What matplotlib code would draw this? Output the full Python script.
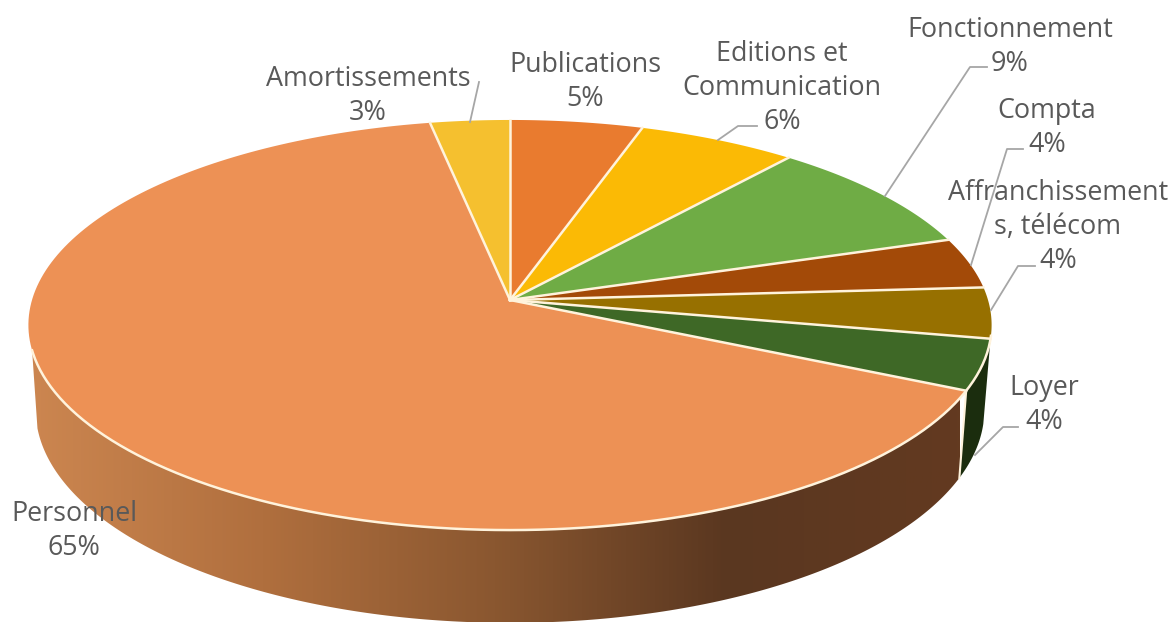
import numpy as np
import matplotlib.pyplot as plt
from matplotlib.colors import LinearSegmentedColormap
from matplotlib.patches import Polygon

categories = ["Publications", "Editions et\nCommunication", "Fonctionnement", "Compta",
              "Affranchissement\ns, télécom", "Loyer", "Personnel", "Amortissements"]
values = [5, 6, 9, 4, 4, 4, 65, 3]
colors = ["#E97B2F", "#FBBA05", "#6FAC45", "#A34A08", "#977000", "#3E6826", "#ED9155", "#F5C02F"]

# label centres, in pixels of the 1173x622 picture
label_pos = [(585, 82), (782, 88), (1010, 47), (1047, 128), (1058, 227), (1044, 405), (74, 531), (368, 96)]

leaders = [
    [(479, 82), (470, 122)],
    [(718, 140), (738, 126), (757, 126)],
    [(885, 196), (970, 67), (987, 67)],
    [(971, 265), (1007, 149), (1023, 149)],
    [(991, 310), (1018, 266), (1035, 266)],
    [(975, 455), (1003, 427), (1018, 427)],
]

wall_colors = ["#CC8650", "#B06F3E", "#8A5730", "#5A3720", "#633A20"]
rim = "#FFF3DC"

# tilted disc seen in perspective, angle clockwise from the top
cx, cy = 510, 300
ax_x, ax_y, k = 478, 202, 0.122

def rim_points(a0, a1, sx=1.0, sy=1.0, dy=0.0, n=200):
    t = np.radians(np.linspace(a0, a1, n))
    u, v = np.sin(t), np.cos(t)
    w = 1 + k * v
    return cx + sx * ax_x * u / w, cy + dy - sy * ax_y * v / w

def bottom_points(a0, a1):
    return rim_points(a0, a1, sx=0.985, sy=1.04, dy=83.6)

fig = plt.figure(figsize=(11.73, 6.22), dpi=100)
ax = fig.add_axes([0, 0, 1, 1])
ax.axis("off")

angles = np.concatenate([[0], np.cumsum(values)]) * 3.6
loyer_end = angles[6]

# side wall of Personnel, with the left to right gradient
x1, y1 = rim_points(loyer_end, 256)
x2, y2 = bottom_points(loyer_end, 258)
wall = Polygon(np.column_stack([np.r_[x1, x2[::-1]], np.r_[y1, y2[::-1]]]), closed=True,
               facecolor="none", edgecolor="none")
ax.add_patch(wall)
cmap = LinearSegmentedColormap.from_list("wall", wall_colors)
grad = np.linspace(0, 1, 512).reshape(1, -1)
im = ax.imshow(grad, cmap=cmap, extent=(30, 960, 640, 300), aspect="auto", zorder=1)
im.set_clip_path(wall)

# side wall of Loyer
x1, y1 = rim_points(angles[5], loyer_end)
x2, y2 = bottom_points(angles[5], loyer_end)
ax.fill(np.r_[x1, x2[::-1]], np.r_[y1, y2[::-1]], color="#1B2D0E", lw=0, zorder=2)

# seam between the two walls
sx0, sy0 = rim_points(loyer_end, loyer_end, n=1)
sx1, sy1 = bottom_points(loyer_end, loyer_end)
ax.plot([sx0[0], sx1[0]], [sy0[0], sy1[0]], color=rim, lw=1.5, zorder=3)

# top of the disc
for i in range(len(values)):
    x, y = rim_points(angles[i], angles[i + 1])
    ax.fill(np.r_[cx, x], np.r_[cy, y], facecolor=colors[i], edgecolor="none", zorder=4)

# cream lines between the slices and along the front edge
for a in angles[:-1]:
    x, y = rim_points(a, a, n=1)
    ax.plot([cx, x[0]], [cy, y[0]], color=rim, lw=1.8, zorder=5)
x, y = rim_points(100, 256)
ax.plot(x, y, color=rim, lw=1.8, zorder=5)

for pts in leaders:
    xs, ys = zip(*pts)
    ax.plot(xs, ys, color="#A6A6A6", lw=1.3, zorder=6)

for name, val, (px, py) in zip(categories, values, label_pos):
    ax.text(px, py, f"{name}\n{val}%", ha="center", va="center", family="Open Sans",
            fontsize=19.4, color="#595959", linespacing=1.3, zorder=7)

ax.set_xlim(0, 1173)
ax.set_ylim(622, 0)

fig.savefig("out.png", dpi=100, facecolor="white")
